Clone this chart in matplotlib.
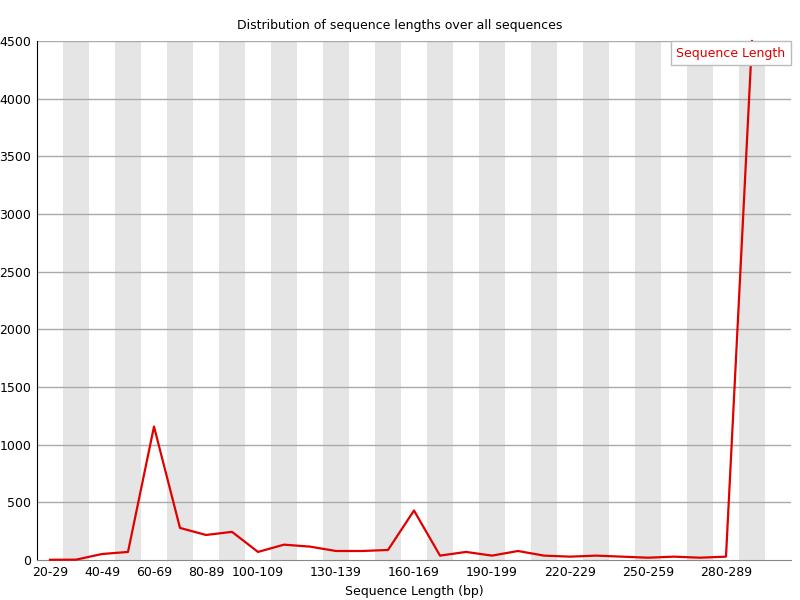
import matplotlib
matplotlib.use('Agg')
import matplotlib.pyplot as plt

# length bins 20-29 ... 290-299
bins = [f'{s}-{s + 9}' for s in range(20, 300, 10)]
counts = [2, 3, 52, 70, 1157, 278, 217, 244, 70, 133, 116, 78, 78, 87, 429,
          38, 70, 38, 78, 38, 29, 38, 29, 20, 29, 20, 29, 4500]
label_idx = [0, 2, 4, 6, 8, 11, 14, 17, 20, 23, 26]
y_ticks = list(range(0, 4501, 500))

plt.rcParams['font.family'] = 'DejaVu Sans'
fig = plt.figure(figsize=(8, 6), dpi=100)
ax = fig.add_axes([37 / 800, 1 - 560 / 600, (791 - 37) / 800, (560 - 41) / 600])

n = len(bins)
# alternating grey bands
for i in range(1, n + 1, 2):
    ax.axvspan(i - 0.5, i + 0.5, color='#e5e5e5', lw=0, zorder=0)
for t in y_ticks[1:]:
    ax.axhline(t, color='#aaaaaa', lw=1, zorder=1)

ax.plot(range(n), counts, color='#e00000', lw=1.6, zorder=3, clip_on=False,
        label='Sequence Length')

ax.set_xlim(-0.5, n + 0.5)
ax.set_ylim(0, 4500)
ax.set_yticks(y_ticks)
ax.set_xticks(label_idx)
ax.set_xticklabels([bins[i] for i in label_idx])
ax.tick_params(length=0, labelsize=9, pad=4)
for s in ['top', 'right']:
    ax.spines[s].set_visible(False)
ax.spines['left'].set_color('black')
ax.spines['bottom'].set_color('#888888')

ax.set_xlabel('Sequence Length (bp)', fontsize=9, labelpad=5)
fig.text(0.5, 1 - 25 / 600, 'Distribution of sequence lengths over all sequences',
         ha='center', va='center', fontsize=9)

leg = ax.legend(loc='upper right', handlelength=0, handletextpad=0, fontsize=9,
                frameon=True, fancybox=False, borderaxespad=0.0, borderpad=0.45,
                bbox_to_anchor=(1.0, 1.0))
leg.get_frame().set_edgecolor('#bbbbbb')
leg.get_frame().set_facecolor('white')
leg.get_frame().set_alpha(1)
for h in leg.legend_handles:
    h.set_visible(False)
for t in leg.get_texts():
    t.set_color('#e00000')

fig.savefig('out.png', dpi=100)
